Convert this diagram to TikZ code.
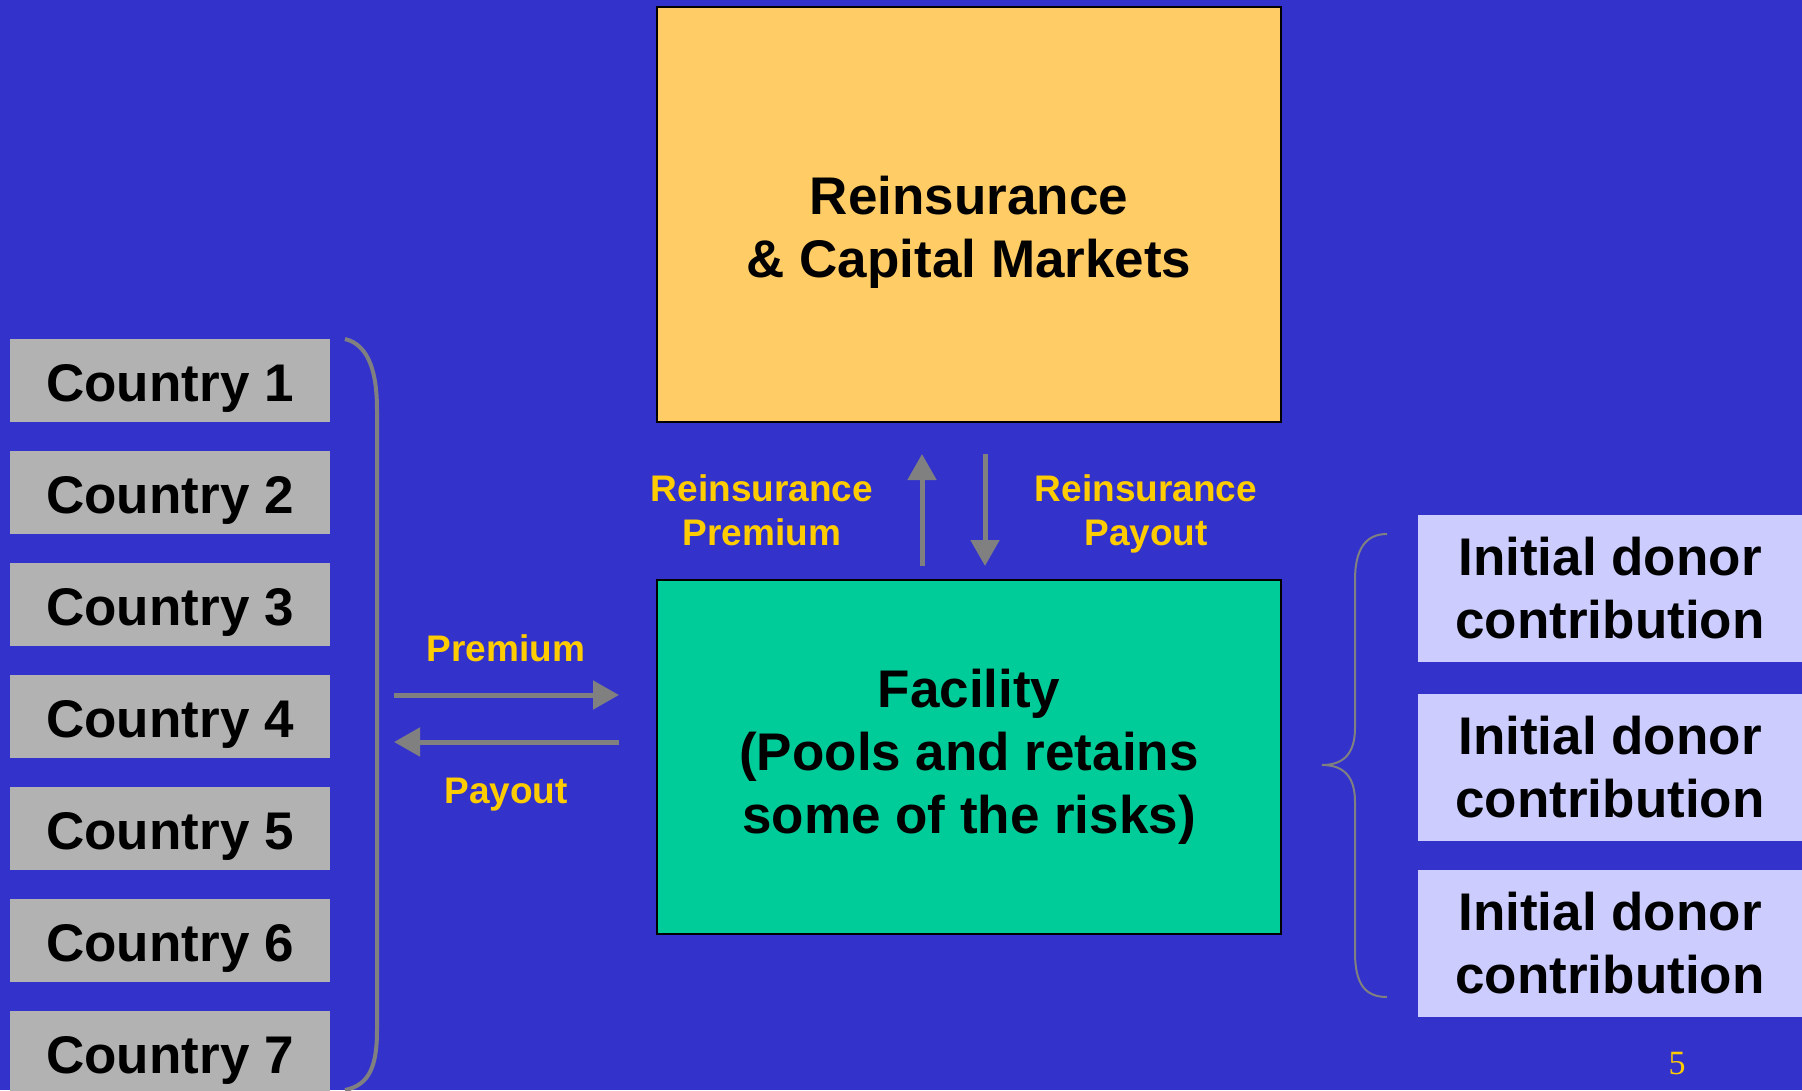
\documentclass[tikz,border=0pt]{standalone}
\usepackage{fontspec}
\setmainfont{Liberation Sans}
\newfontfamily\pagefont{Liberation Serif}
\usetikzlibrary{arrows.meta}

\definecolor{slidebg}{RGB}{51,51,204}
\definecolor{marketfill}{RGB}{255,204,102}
\definecolor{facilityfill}{RGB}{0,204,153}
\definecolor{countryfill}{RGB}{178,178,178}
\definecolor{donorfill}{RGB}{204,204,255}
\definecolor{labelyellow}{RGB}{255,204,0}
\definecolor{flowgrey}{RGB}{128,128,128}

\begin{document}
\begin{tikzpicture}[x=1pt,y=-1pt,
  bigtext/.style={font=\fontsize{53}{63}\selectfont\bfseries, text=black, align=center},
  mainbox/.style={draw=black, line width=2pt, inner sep=0pt},
  countrybox/.style={fill=countryfill, minimum width=320pt, minimum height=83pt, inner sep=0pt, bigtext,
    text height=52pt, text depth=11pt},
  donorbox/.style={fill=donorfill, minimum width=384pt, minimum height=147pt, inner sep=0pt, bigtext},
  flowlabel/.style={text=labelyellow, font=\fontsize{37}{44}\selectfont\bfseries, align=center},
  flow/.style={draw=flowgrey, line width=5pt, -{Triangle[length=26pt,width=28pt]}},
  bracketline/.style={draw=flowgrey, line width=4pt},
  braceline/.style={draw=flowgrey, line width=2pt},
]
% slide background
\fill[slidebg] (0,0) rectangle (1802,1090);
\useasboundingbox (0,0) rectangle (1802,1090);

% central boxes
\node[mainbox, fill=marketfill, minimum width=624pt, minimum height=415pt] (market) at (969,214.5) {};
\node[bigtext] (markettitle) at (969,232) {Reinsurance\\\& Capital Markets};
\node[mainbox, fill=facilityfill, minimum width=624pt, minimum height=354pt, bigtext] (facility) at (969,757)
  {Facility\\(Pools and retains\\some of the risks)};

% member countries
\foreach \i in {1,...,7}{
  \node[countrybox] (country\i) at (170,{380.5+(\i-1)*112}) {Country \i};
}

% donor contributions
\node[donorbox] (donor1) at (1610,588.5) {Initial donor\\contribution};
\node[donorbox] (donor2) at (1610,767.5) {Initial donor\\contribution};
\node[donorbox] (donor3) at (1610,943.5) {Initial donor\\contribution};

% bracket grouping the countries
\draw[bracketline] (345,339) .. controls (370,345) and (377,375) .. (377,410)
  -- (377,1030) .. controls (377,1065) and (370,1085) .. (345,1090);

% brace grouping the donors
\draw[braceline] (1387,534) .. controls (1365,534) and (1355,550) .. (1355,580)
  -- (1355,728) .. controls (1355,752) and (1345,765) .. (1322,765)
  .. controls (1345,765) and (1355,778) .. (1355,802)
  -- (1355,952) .. controls (1355,984) and (1365,997) .. (1387,997);

% flow end points
\coordinate (premA) at (394,695);
\coordinate (premB) at (619,695);
\coordinate (payA) at (619,742);
\coordinate (payB) at (394,742);
\coordinate (riUpA) at (922,566);
\coordinate (riUpB) at (922,454);
\coordinate (riDnA) at (985,454);
\coordinate (riDnB) at (985,566);

\draw[flow] (premA) -- (premB);
\draw[flow] (payA) -- (payB);
\draw[flow] (riUpA) -- (riUpB);
\draw[flow] (riDnA) -- (riDnB);

% flow labels
\node[flowlabel] (premlabel) at (506,648) {Premium};
\node[flowlabel] (paylabel) at (506,795) {Payout};
\node[flowlabel] (riprem) at (762,510) {Reinsurance\\Premium};
\node[flowlabel] (ripay) at (1146,514) {Reinsurance\\Payout};

% page number
\node[text=labelyellow, font=\pagefont\fontsize{34}{40}\selectfont] (pagenum) at (1677,1064) {5};
\end{tikzpicture}
\end{document}
